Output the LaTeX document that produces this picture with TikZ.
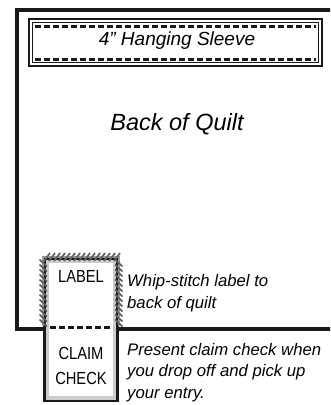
\documentclass[tikz,border=0pt]{standalone}
\usepackage{fontspec}
\setmainfont{Liberation Sans}
\begin{document}
\begin{tikzpicture}[x=1pt,y=-1pt,
  thickline/.style={line width=4.5pt, draw=black!90},
  dashrow/.style={line width=3pt, draw=black!90, dash pattern=on 6pt off 3pt},
  ital/.style={font=\itshape\fontsize{16.7}{20}\selectfont, anchor=base west, inner sep=0pt},
  narrowtxt/.style={font=\fontsize{17.5}{20}\selectfont, anchor=base, inner sep=0pt, xscale=0.84},
  stitch/.style={line width=1.7pt, draw=black!62}]
\useasboundingbox (0,0) rectangle (330,405);
\clip (0,0) rectangle (330,405);
% quilt back
\draw[thickline] (17,10) rectangle (340,329);
% hanging sleeve
\draw[line width=2.6pt, draw=black!90] (29,19) rectangle (322,66);
\draw[line width=0.9pt, draw=black!90] (32.5,22.5) rectangle (318.5,62.5);
\draw[dashrow] (35,26) -- (316,26);
\draw[dashrow] (35,59.5) -- (316,59.5);
\node[font=\itshape\fontsize{19}{22}\selectfont, anchor=base, inner sep=0pt] (sleeve) at (177,45) {4” Hanging Sleeve};
\node[font=\itshape\fontsize{23.5}{28}\selectfont, anchor=base, inner sep=0pt] (back) at (177,130) {Back of Quilt};
% label / claim check
\fill[black!20] (44.5,259) rectangle (117.5,401);
\fill[white] (49,263) rectangle (113,396);
\draw[line width=2.6pt, draw=black!90] (44.5,259) rectangle (117.5,401);
\draw[dashrow] (50,327) -- (113,327);
\node[narrowtxt] (label) at (81,282) {LABEL};
\node[narrowtxt] (claim) at (81,359) {CLAIM};
\node[narrowtxt] (check) at (81,384) {CHECK};
% whip stitches
\draw[line width=1.2pt, draw=black!40] (43,326) -- (43,257) -- (119,257) -- (119,326);
\foreach \x in {47,52,...,117} \draw[stitch] (\x-3,261) -- (\x+3,253);
\foreach \y in {263,268,...,326} {
  \draw[stitch] (39.5,\y-3.5) -- (47,\y+3.5);
  \draw[stitch] (115,\y-3.5) -- (122.5,\y+3.5);
}
% notes
\node[ital] (w1) at (127,286) {Whip-stitch label to};
\node[ital] (w2) at (127,308) {back of quilt};
\node[ital] (p1) at (127,355) {Present claim check when};
\node[ital] (p2) at (127,376.5) {you drop off and pick up};
\node[ital] (p3) at (127,398) {your entry.};
\end{tikzpicture}
\end{document}
